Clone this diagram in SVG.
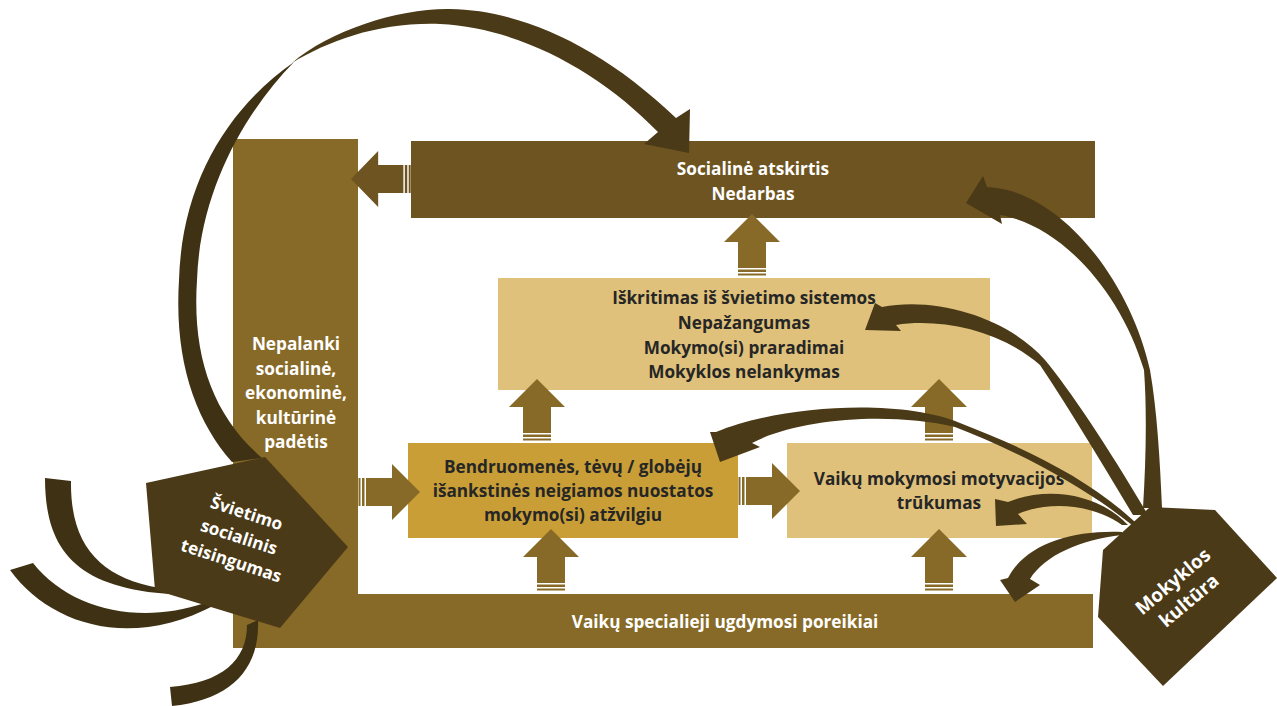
<svg xmlns="http://www.w3.org/2000/svg" width="1277" height="706" viewBox="0 0 1277 706">
<defs>
<style>
.t{font-family:"Open Sans","Liberation Sans",sans-serif;font-weight:700;font-size:17.2px;text-anchor:middle}
.w{fill:#ffffff}
.d{fill:#262626}
.bar{fill:#876A27}
.top{fill:#6E5420}
.light{fill:#DFC17B}
.gold{fill:#C99E36}
.blk{fill:#876A27}
.blk2{fill:#6E5420}
.cv{fill:#4B3A17}
.cv2{fill:#3F3113}
.pent{fill:#4B3A17}
</style>
<g id="uparrow">
<path d="M0,0 L28,28 L14,28 L14,54 L-14,54 L-14,28 L-28,28 Z"/>
<rect x="-14" y="55.5" width="28" height="2.5"/>
<rect x="-14" y="59.5" width="28" height="2"/>
</g>
</defs>
<rect width="1277" height="706" fill="#ffffff"/>

<g id="node-nepalanki">
<rect class="bar" x="233" y="139" width="125" height="509"/>
<text class="t w" x="296" y="350">Nepalanki</text>
<text class="t w" x="296" y="374.5">socialinė,</text>
<text class="t w" x="296" y="399">ekonominė,</text>
<text class="t w" x="296" y="423.5">kultūrinė</text>
<text class="t w" x="296" y="448">padėtis</text>
</g>
<g id="node-specialieji">
<rect class="bar" x="233" y="594" width="860" height="54"/>
<text class="t w" x="725" y="628">Vaikų specialieji ugdymosi poreikiai</text>
</g>
<g id="node-social">
<rect class="top" x="411" y="141" width="684" height="77"/>
<text class="t w" x="753" y="175">Socialinė atskirtis</text>
<text class="t w" x="753" y="200">Nedarbas</text>
</g>
<g id="node-iskritimas">
<rect class="light" x="498" y="278" width="492" height="112"/>
<text class="t d" x="744" y="304">Iškritimas iš švietimo sistemos</text>
<text class="t d" x="744" y="329">Nepažangumas</text>
<text class="t d" x="744" y="353.5">Mokymo(si) praradimai</text>
<text class="t d" x="744" y="378">Mokyklos nelankymas</text>
</g>
<g id="node-bendruomenes">
<rect class="gold" x="408" y="443" width="330" height="95"/>
<text class="t d" x="573" y="473">Bendruomenės, tėvų / globėjų</text>
<text class="t d" x="573" y="497">išankstinės neigiamos nuostatos</text>
<text class="t d" x="573" y="521">mokymo(si) atžvilgiu</text>
</g>
<g id="node-motyvacija">
<rect class="light" x="787" y="443" width="305" height="95"/>
<text class="t d" x="939" y="485">Vaikų mokymosi motyvacijos</text>
<text class="t d" x="939" y="509">trūkumas</text>
</g>

<g id="connectors">
<use href="#uparrow" class="blk2" transform="translate(351,179) rotate(-90) scale(1,0.97)"/>
<use href="#uparrow" class="blk" transform="translate(752,214)"/>
<use href="#uparrow" class="blk" transform="translate(537,379)"/>
<use href="#uparrow" class="blk" transform="translate(939,379)"/>
<use href="#uparrow" class="blk" transform="translate(551,529)"/>
<use href="#uparrow" class="blk" transform="translate(939,529)"/>
<use href="#uparrow" class="blk" transform="translate(420,492) rotate(90)"/>
<use href="#uparrow" class="blk" transform="translate(800,491) rotate(90)"/>

<path class="cv2" d="M45,478 C45,555 80,595 200,595 L160,588 C100,578 70,545 71,481 Z"/>
<path class="cv2" d="M10,570 C50,625 130,650 215,605 L205,603 C140,625 70,610 33,563 Z"/>
<path class="cv2" d="M258,620 C260,670 230,700 172,706 L170,687 C222,683 247,660 247,625 Z"/>
<path class="cv2" d="M294,62 C228,108 182,182 179,280 C174,360 195,420 232,462 L262,458 C212,415 192,355 197,280 C200,190 245,112 294,62 Z"/>
<path class="cv" d="M292,63 C330,30 400,8 450,9 C520,10 600,45 676,118 L690,109 L689,153 L644,144 L658,132 C600,72 520,28 440,24 C380,22 330,40 292,63 Z"/>

<path class="cv" d="M987,187 C1060,190 1130,280 1150,370 C1157,410 1160,460 1162,508 L1143,508 C1146,460 1147,410 1144,370 C1120,290 1060,225 1000,215 L1002,224 L966,203 L983,176 Z"/>
<path class="cv" d="M1148,515 C1110,450 1070,390 1045,360 C1010,320 940,296 882,307 L875,303 L865,330 L901,331 L896,325 C940,318 1000,330 1040,365 C1070,410 1100,460 1133,515 Z"/>
<path class="cv" d="M716,432 C780,405 900,398 960,423 C1030,450 1090,480 1135,522 L1132,525 C1080,483 1010,448 955,427 C890,412 800,418 752,443 L760,447 L720,462 L710,432 Z"/>
<path class="cv" d="M1128,525 C1100,495 1050,485 1008,502 L995,499 L996,526 L1027,524 L1018,514 C1050,500 1095,505 1122,525 Z"/>
<path class="cv" d="M1122,532 C1070,530 1025,545 1008,578 L1000,580 L1015,602 L1040,585 L1030,579 C1045,555 1080,540 1122,535 Z"/>
</g>

<g id="node-svietimo">
<polygon class="pent" points="146,483 265,457 348,547 280,628 155,590"/>
<g transform="rotate(18 239 537)">
<text class="t w" x="239" y="518">Švietimo</text>
<text class="t w" x="239" y="543">socialinis</text>
<text class="t w" x="239" y="568">teisingumas</text>
</g>
</g>
<g id="node-kultura">
<polygon class="pent" points="1103,550 1150,507 1215,510 1277,578 1163,686 1098,617"/>
<g transform="rotate(-40 1181 591)">
<text class="t w" x="1181" y="585" style="font-size:19px">Mokyklos</text>
<text class="t w" x="1181" y="610" style="font-size:19px">kultūra</text>
</g>
</g>
</svg>
